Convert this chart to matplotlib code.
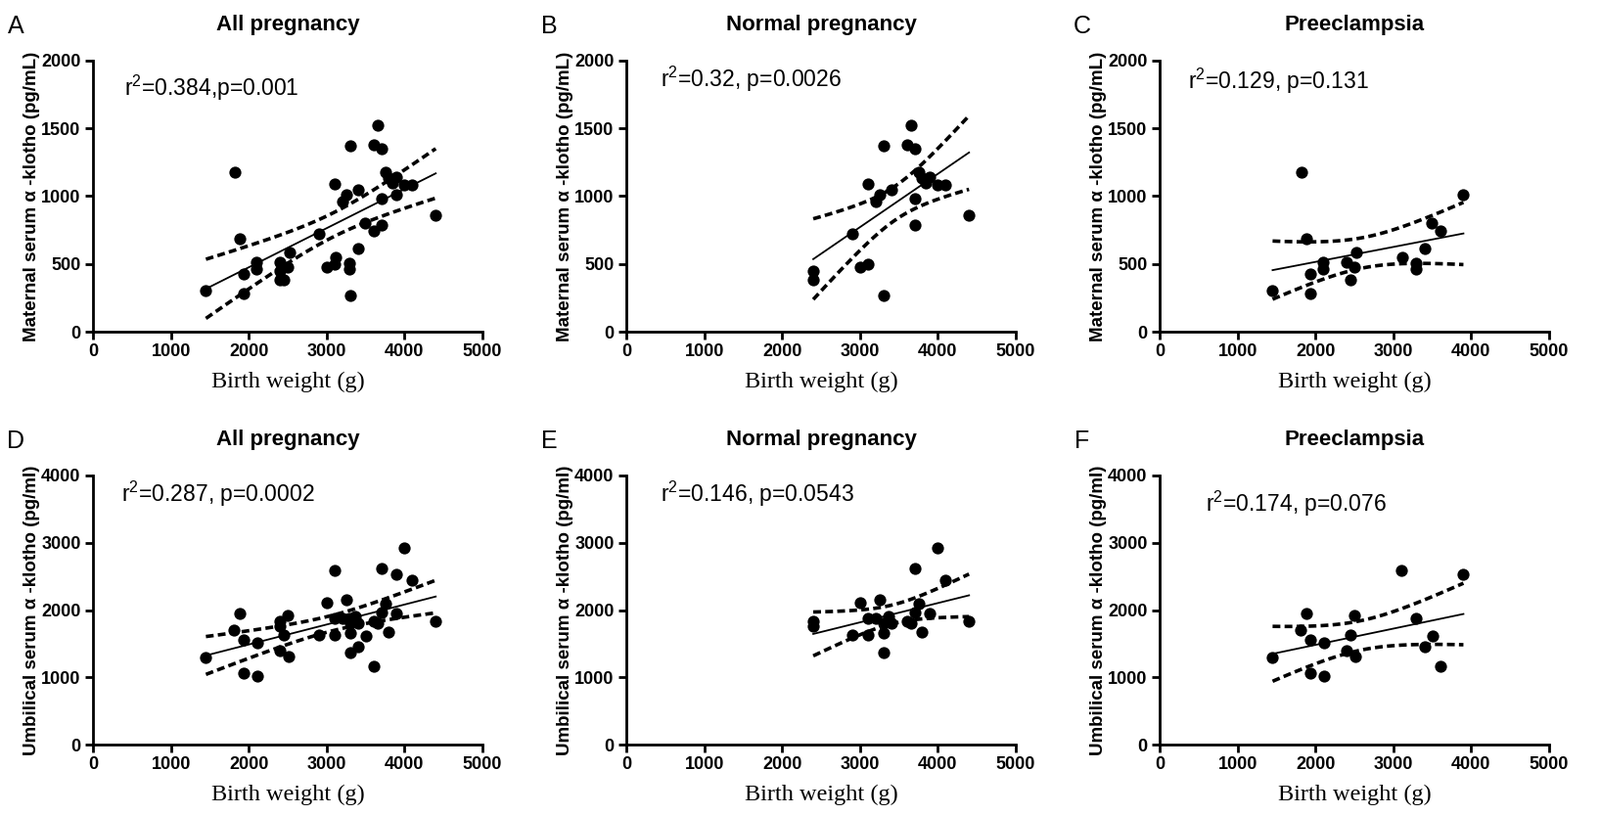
import matplotlib
matplotlib.use("Agg")
import matplotlib.pyplot as plt
import numpy as np

# maternal serum a-klotho vs birth weight
mat_normal_bw = [2400, 2400, 2900, 3000, 3100, 3100, 3200, 3250, 3300, 3300, 3400,
                 3600, 3650, 3700, 3700, 3700, 3750, 3800, 3850, 3900, 4000, 4100, 4400]
mat_normal_kl = [450, 380, 720, 475, 500, 1090, 960, 1010, 1375, 270, 1050,
                 1380, 1525, 1350, 980, 790, 1180, 1130, 1100, 1140, 1080, 1080, 860]
mat_pe_bw = [1450, 1820, 1880, 1940, 1940, 2100, 2100, 2395, 2455, 2495, 2520,
             3110, 3290, 3290, 3400, 3490, 3600, 3900]
mat_pe_kl = [305, 1180, 686, 424, 281, 516, 463, 516, 383, 473, 584,
             548, 504, 463, 614, 803, 747, 1012]

# umbilical serum a-klotho vs birth weight
umb_normal_bw = [2400, 2400, 2900, 3000, 3100, 3100, 3200, 3250, 3300, 3300, 3300, 3370,
                 3410, 3600, 3650, 3700, 3700, 3750, 3800, 3900, 4000, 4100, 4400]
umb_normal_kl = [1830, 1760, 1630, 2110, 1630, 1870, 1870, 2160, 1800, 1660, 1370, 1900,
                 1800, 1830, 1800, 2620, 1970, 2100, 1670, 1950, 2930, 2450, 1840]
umb_pe_bw = [1450, 1812, 1880, 1940, 1940, 2105, 2105, 2395, 2455, 2503, 2507,
             3106, 3291, 3400, 3500, 3600, 3900]
umb_pe_kl = [1300, 1698, 1955, 1552, 1067, 1518, 1019, 1392, 1635, 1916, 1310,
             2585, 1877, 1455, 1610, 1164, 2530]

titles = ["All pregnancy", "Normal pregnancy", "Preeclampsia"]
letters = ["A", "B", "C", "D", "E", "F"]
stats = ["r$^2$=0.384,p=0.001", "r$^2$=0.32, p=0.0026", "r$^2$=0.129, p=0.131",
         "r$^2$=0.287, p=0.0002", "r$^2$=0.146, p=0.0543", "r$^2$=0.174, p=0.076"]
stat_pos = [(400, 1800), (440, 1860), (365, 1850), (365, 3720), (440, 3720), (590, 3580)]
ylabels = ["Maternal serum \u03b1 -klotho (pg/mL)", "Umbilical serum \u03b1 -klotho (pg/ml)"]


def t_ppf(p, df):
    # simple numeric inverse of the Student t CDF
    xs = np.linspace(0, 10, 20001)
    pdf = (1 + xs ** 2 / df) ** (-(df + 1) / 2)
    cdf = np.concatenate([[0], np.cumsum((pdf[1:] + pdf[:-1]) / 2 * np.diff(xs))])
    cdf = cdf / cdf[-1] * 0.5 + 0.5
    return np.interp(p, cdf, xs)


def fit_band(x, y):
    x = np.asarray(x, float)
    y = np.asarray(y, float)
    n = len(x)
    b, a = np.polyfit(x, y, 1)
    resid = y - (a + b * x)
    s = np.sqrt(np.sum(resid ** 2) / (n - 2))
    xx = np.linspace(x.min(), x.max(), 100)
    yy = a + b * xx
    se = s * np.sqrt(1 / n + (xx - x.mean()) ** 2 / np.sum((x - x.mean()) ** 2))
    t = t_ppf(0.975, n - 2)
    return xx, yy, yy - t * se, yy + t * se


datasets = [
    (mat_normal_bw + mat_pe_bw, mat_normal_kl + mat_pe_kl),
    (mat_normal_bw, mat_normal_kl),
    (mat_pe_bw, mat_pe_kl),
    (umb_normal_bw + umb_pe_bw, umb_normal_kl + umb_pe_kl),
    (umb_normal_bw, umb_normal_kl),
    (umb_pe_bw, umb_pe_kl),
]

plt.rcParams['font.family'] = ['Liberation Sans', 'DejaVu Sans']
plt.rcParams['mathtext.fontset'] = 'custom'
plt.rcParams['mathtext.rm'] = 'Liberation Sans'
plt.rcParams['mathtext.it'] = 'Liberation Sans'
plt.rcParams['mathtext.default'] = 'regular'

fig = plt.figure(figsize=(16.35, 8.33), dpi=100)
W, H = 1635.0, 833.0
lefts = [95, 640, 1185]
rows = [(62, 339, 2000, 500), (486, 761, 4000, 1000)]

for i, (bw, kl) in enumerate(datasets):
    r, c = divmod(i, 3)
    top, bot, ymax, ystep = rows[r]
    ax = fig.add_axes([lefts[c] / W, 1 - bot / H, 398 / W, (bot - top) / H])

    xx, yy, lo, hi = fit_band(bw, kl)
    ax.plot(xx, yy, color='black', lw=1.3, zorder=2)
    ax.plot(xx, lo, color='black', lw=2.6, ls=(0, (2.2, 1.2)), zorder=2)
    ax.plot(xx, hi, color='black', lw=2.6, ls=(0, (2.2, 1.2)), zorder=2)
    ax.scatter(bw, kl, s=78, color='black', zorder=3, linewidths=0)

    ax.set_xlim(0, 5000)
    ax.set_ylim(0, ymax)
    ax.set_xticks(np.arange(0, 5001, 1000))
    ax.set_yticks(np.arange(0, ymax + 1, ystep))
    for side in ['top', 'right']:
        ax.spines[side].set_visible(False)
    for side in ['left', 'bottom']:
        ax.spines[side].set_linewidth(2)
    ax.tick_params(width=2, length=6, labelsize=13, pad=3)
    for lab in ax.get_xticklabels() + ax.get_yticklabels():
        lab.set_fontweight('bold')

    ax.set_xlabel("Birth weight (g)", family='Liberation Serif', fontsize=17.5, labelpad=8)
    ax.set_ylabel(ylabels[r], fontsize=13.5, fontweight='bold', labelpad=1)
    ax.set_title(titles[c], fontsize=16, fontweight='bold', pad=22)
    ax.text(stat_pos[i][0], stat_pos[i][1], stats[i], fontsize=16.5, va='center', ha='left')
    fig.text((lefts[c] - 79) / W, 1 - (top - 35) / H, letters[i], fontsize=18, va='center', ha='center')

fig.savefig("out.png", dpi=100, facecolor='white')
